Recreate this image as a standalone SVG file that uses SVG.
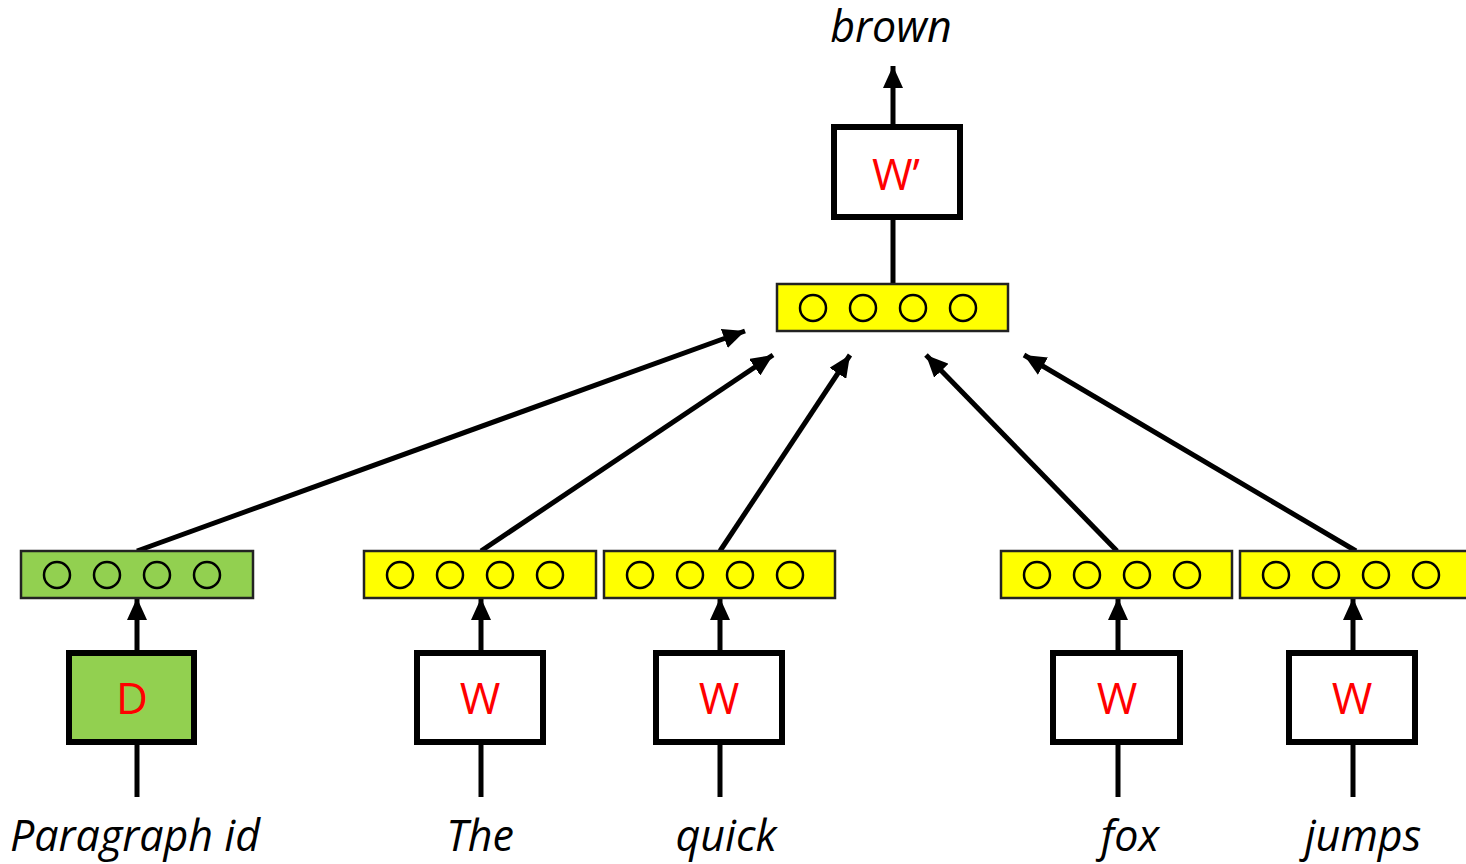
<svg xmlns="http://www.w3.org/2000/svg" width="1466" height="864" viewBox="0 0 1466 864">
<style>
.vec{stroke:#222;stroke-width:2.5}
.y{fill:#FFFF00}
.g{fill:#92D050}
.dot{fill:none;stroke:#000;stroke-width:2.5}
.box{stroke:#000;stroke-width:6}
.lbl{font-family:"Open Sans","Noto Sans",sans-serif;font-style:italic;font-size:43px;fill:#000;text-anchor:middle}
.m{font-family:"Open Sans","Noto Sans",sans-serif;font-size:44px;fill:#FF0000;text-anchor:middle}
.c{stroke:#000;stroke-width:5;fill:none}
</style>
<defs>
<marker id="ah" markerUnits="userSpaceOnUse" markerWidth="22" markerHeight="20" viewBox="0 0 22 20" refX="22" refY="10" orient="auto">
<path d="M0,0 L22,10 L0,20 Z" fill="#000"/>
</marker>
<g id="dots">
<circle cx="36" cy="24" r="13" class="dot"/>
<circle cx="86" cy="24" r="13" class="dot"/>
<circle cx="136" cy="24" r="13" class="dot"/>
<circle cx="186" cy="24" r="13" class="dot"/>
</g>
</defs>
<rect width="1466" height="864" fill="#fff"/>
<g id="connectors">
<line x1="893" y1="126" x2="893" y2="66" class="c" marker-end="url(#ah)"/>
<line x1="893" y1="218" x2="893" y2="284" class="c"/>
<line x1="137" y1="551" x2="745" y2="331" class="c" marker-end="url(#ah)"/>
<line x1="481" y1="551" x2="773" y2="355" class="c" marker-end="url(#ah)"/>
<line x1="720" y1="551" x2="850" y2="355" class="c" marker-end="url(#ah)"/>
<line x1="1117" y1="551" x2="926" y2="355" class="c" marker-end="url(#ah)"/>
<line x1="1356" y1="551" x2="1024" y2="355" class="c" marker-end="url(#ah)"/>
<line x1="137" y1="651" x2="137" y2="598" class="c" marker-end="url(#ah)"/>
<line x1="481" y1="651" x2="481" y2="598" class="c" marker-end="url(#ah)"/>
<line x1="720" y1="651" x2="720" y2="598" class="c" marker-end="url(#ah)"/>
<line x1="1118" y1="651" x2="1118" y2="598" class="c" marker-end="url(#ah)"/>
<line x1="1353" y1="651" x2="1353" y2="598" class="c" marker-end="url(#ah)"/>
<line x1="137" y1="743" x2="137" y2="797" class="c"/>
<line x1="481" y1="743" x2="481" y2="797" class="c"/>
<line x1="720" y1="743" x2="720" y2="797" class="c"/>
<line x1="1118" y1="743" x2="1118" y2="797" class="c"/>
<line x1="1353" y1="743" x2="1353" y2="797" class="c"/>
</g>
<g id="output-label"><text x="891" y="42" class="lbl">brown</text></g>
<g id="wprime"><rect x="834" y="127" width="126" height="90" fill="#fff" class="box"/><text x="896" y="190" class="m">W’</text></g>
<g id="hidden-vec"><rect x="777" y="284" width="231" height="47" class="y vec"/><use href="#dots" x="777" y="284"/></g>
<g id="vec-d"><rect x="21" y="551" width="232" height="47" class="g vec"/><use href="#dots" x="21" y="551"/></g>
<g id="vec-the"><rect x="364" y="551" width="232" height="47" class="y vec"/><use href="#dots" x="364" y="551"/></g>
<g id="vec-quick"><rect x="604" y="551" width="231" height="47" class="y vec"/><use href="#dots" x="604" y="551"/></g>
<g id="vec-fox"><rect x="1001" y="551" width="231" height="47" class="y vec"/><use href="#dots" x="1001" y="551"/></g>
<g id="vec-jumps"><rect x="1240" y="551" width="232" height="47" class="y vec"/><use href="#dots" x="1240" y="551"/></g>
<g id="box-d"><rect x="69" y="653" width="125" height="89" class="g box"/><text x="132" y="714" class="m">D</text></g>
<g id="box-the"><rect x="417" y="653" width="126" height="89" fill="#fff" class="box"/><text x="480" y="714" class="m">W</text></g>
<g id="box-quick"><rect x="656" y="653" width="126" height="89" fill="#fff" class="box"/><text x="719" y="714" class="m">W</text></g>
<g id="box-fox"><rect x="1053" y="653" width="127" height="89" fill="#fff" class="box"/><text x="1117" y="714" class="m">W</text></g>
<g id="box-jumps"><rect x="1289" y="653" width="126" height="89" fill="#fff" class="box"/><text x="1352" y="714" class="m">W</text></g>
<g id="labels">
<text x="135" y="851" class="lbl">Paragraph id</text>
<text x="480" y="851" class="lbl">The</text>
<text x="726" y="851" class="lbl">quick</text>
<text x="1130" y="851" class="lbl">fox</text>
<text x="1363" y="851" class="lbl">jumps</text>
</g>
</svg>
